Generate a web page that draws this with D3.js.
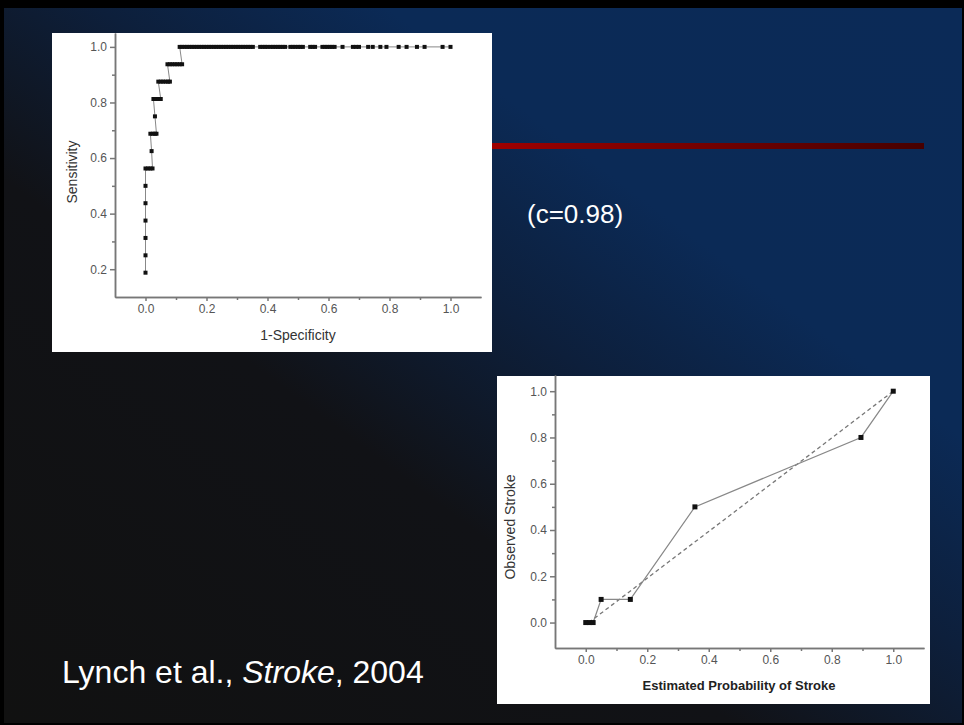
<!DOCTYPE html>
<html>
<head>
<meta charset="utf-8">
<script src="https://cdn.jsdelivr.net/npm/d3@7"></script>
<style>
  body { margin: 0; background: #000; }
  text { font-family: "Liberation Sans", Arial, sans-serif; }
</style>
</head>
<body>
<svg id="slide" width="964" height="725"></svg>
<script>
// ROC curve points (1-specificity, sensitivity)
const rocFpr = [
    0, 0, 0, 0, 0, 0, 0,
    0.008, 0.016, 0.023,
    0.02,
    0.016, 0.024, 0.031, 0.036,
    0.031,
    0.026, 0.034, 0.042, 0.05,
    0.042, 0.05, 0.058, 0.066, 0.074, 0.08,
    0.072, 0.08, 0.088, 0.096, 0.104, 0.112, 0.12,
    0.112, 0.12, 0.128, 0.136, 0.144, 0.152, 0.16, 0.168, 0.176, 0.184,
    0.192, 0.2, 0.208, 0.216, 0.224, 0.232, 0.24, 0.248, 0.256, 0.264,
    0.272, 0.28, 0.288, 0.296, 0.304, 0.312, 0.32, 0.328, 0.336, 0.344, 0.352,
    0.376, 0.384, 0.392, 0.4, 0.41, 0.418, 0.426, 0.434, 0.442, 0.45, 0.458,
    0.475, 0.483, 0.491, 0.5, 0.508, 0.516,
    0.54, 0.548, 0.556,
    0.58, 0.588, 0.596, 0.604, 0.612, 0.62,
    0.646, 0.68, 0.69, 0.7, 0.73, 0.745, 0.77, 0.79,
    0.83, 0.856, 0.89, 0.915, 0.974, 1.0
];
const rocTpr = [
    0.1875, 0.25, 0.3125, 0.375, 0.4375, 0.5, 0.5625,
    0.5625, 0.5625, 0.5625,
    0.625,
    0.6875, 0.6875, 0.6875, 0.6875,
    0.75,
    0.8125, 0.8125, 0.8125, 0.8125,
    0.875, 0.875, 0.875, 0.875, 0.875, 0.875,
    0.9375, 0.9375, 0.9375, 0.9375, 0.9375, 0.9375, 0.9375,
    1, 1, 1, 1, 1, 1, 1, 1, 1, 1,
    1, 1, 1, 1, 1, 1, 1, 1, 1, 1,
    1, 1, 1, 1, 1, 1, 1, 1, 1, 1, 1,
    1, 1, 1, 1, 1, 1, 1, 1, 1, 1, 1,
    1, 1, 1, 1, 1, 1,
    1, 1, 1,
    1, 1, 1, 1, 1, 1,
    1, 1, 1, 1, 1, 1, 1, 1,
    1, 1, 1, 1, 1, 1
];

// calibration plot points (estimated probability, observed stroke)
const calEstimated = [0, 0.012, 0.024, 0.05, 0.145, 0.355, 0.895, 1.0];
const calObserved = [0, 0, 0, 0.1, 0.1, 0.5, 0.8, 1.0];
const calRefX = [0.01, 1.0];
const calRefY = [0.0, 1.0];

const majorTicks = [0, 0.2, 0.4, 0.6, 0.8, 1.0];
const rocYTicks = [0.2, 0.4, 0.6, 0.8, 1.0];
const minorTicks = [0.1, 0.3, 0.5, 0.7, 0.9];

const svg = d3.select("#slide");
const fmt = d3.format(".1f");

// slide background
const defs = svg.append("defs");
const bg = defs.append("linearGradient").attr("id", "bg")
    .attr("x1", 0).attr("y1", 1).attr("x2", 1).attr("y2", 0);
bg.append("stop").attr("offset", 0).attr("stop-color", "#111111");
bg.append("stop").attr("offset", 0.38).attr("stop-color", "#111216");
bg.append("stop").attr("offset", 0.55).attr("stop-color", "#0d1f3b");
bg.append("stop").attr("offset", 0.7).attr("stop-color", "#0b2a56");
bg.append("stop").attr("offset", 1).attr("stop-color", "#0b2a57");

const red = defs.append("linearGradient").attr("id", "redbar");
red.append("stop").attr("offset", 0).attr("stop-color", "#a30000");
red.append("stop").attr("offset", 1).attr("stop-color", "#470000");

svg.append("rect").attr("width", 964).attr("height", 725).attr("fill", "#000");
svg.append("rect").attr("x", 4).attr("y", 8).attr("width", 958).attr("height", 715)
    .attr("fill", "url(#bg)");

svg.append("rect").attr("x", 470).attr("y", 143).attr("width", 454).attr("height", 6)
    .attr("fill", "url(#redbar)");

svg.append("text").attr("x", 527).attr("y", 223)
    .attr("fill", "#fff").attr("font-size", 26).text("(c=0.98)");

const cite = svg.append("text").attr("x", 62).attr("y", 683)
    .attr("fill", "#fff").attr("font-size", 32);
cite.append("tspan").text("Lynch et al., ");
cite.append("tspan").attr("font-style", "italic").text("Stroke");
cite.append("tspan").text(", 2004");

function styleAxis(g) {
    g.selectAll("path, line").attr("stroke", "#777").attr("stroke-width", 1.5);
    g.selectAll("text").attr("fill", "#555").attr("font-size", 12)
        .attr("font-family", "'Liberation Sans', Arial, sans-serif");
}

// ---- ROC panel ----
svg.append("rect").attr("x", 52).attr("y", 33).attr("width", 440).attr("height", 319)
    .attr("fill", "#fff");

const rx = d3.scaleLinear().domain([-0.1, 1.1]).range([115, 481]);
const ry = d3.scaleLinear().domain([0.1, 1.05]).range([297, 33]);

svg.append("g").attr("transform", "translate(0,297)")
    .call(d3.axisBottom(rx).tickValues(majorTicks).tickFormat(fmt).tickSize(4).tickSizeOuter(0))
    .call(styleAxis);
svg.append("g").attr("transform", "translate(0,297)")
    .call(d3.axisBottom(rx).tickValues(minorTicks).tickFormat("").tickSize(3).tickSizeOuter(0))
    .call(styleAxis);
svg.append("g").attr("transform", "translate(115,0)")
    .call(d3.axisLeft(ry).tickValues(rocYTicks).tickFormat(fmt).tickSize(5).tickSizeOuter(0))
    .call(styleAxis);
svg.append("g").attr("transform", "translate(115,0)")
    .call(d3.axisLeft(ry).tickValues([0.3, 0.5, 0.7, 0.9]).tickFormat("").tickSize(3).tickSizeOuter(0))
    .call(styleAxis);

const rocPts = rocFpr.map((v, i) => [v, rocTpr[i]]);
svg.append("path").datum(rocPts)
    .attr("fill", "none").attr("stroke", "#888").attr("stroke-width", 1)
    .attr("d", d3.line().x(d => rx(d[0])).y(d => ry(d[1])));
svg.append("g").selectAll("rect").data(rocPts).enter().append("rect")
    .attr("x", d => rx(d[0]) - 2).attr("y", d => ry(d[1]) - 2)
    .attr("width", 4).attr("height", 4).attr("fill", "#111");

svg.append("text").attr("x", 298).attr("y", 340).attr("text-anchor", "middle")
    .attr("fill", "#333").attr("font-size", 14).text("1-Specificity");
svg.append("text").attr("transform", "translate(77,172) rotate(-90)")
    .attr("text-anchor", "middle").attr("fill", "#333").attr("font-size", 14).text("Sensitivity");

// ---- calibration panel ----
svg.append("rect").attr("x", 497).attr("y", 376).attr("width", 433).attr("height", 328)
    .attr("fill", "#fff");

const cx = d3.scaleLinear().domain([-0.1, 1.1]).range([555, 924]);
const cy = d3.scaleLinear().domain([-0.11, 1.07]).range([648, 375]);

svg.append("g").attr("transform", "translate(0,648)")
    .call(d3.axisBottom(cx).tickValues(majorTicks).tickFormat(fmt).tickSize(4).tickSizeOuter(0))
    .call(styleAxis);
svg.append("g").attr("transform", "translate(0,648)")
    .call(d3.axisBottom(cx).tickValues(minorTicks).tickFormat("").tickSize(3).tickSizeOuter(0))
    .call(styleAxis);
svg.append("g").attr("transform", "translate(555,0)")
    .call(d3.axisLeft(cy).tickValues(majorTicks).tickFormat(fmt).tickSize(5).tickSizeOuter(0))
    .call(styleAxis);
svg.append("g").attr("transform", "translate(555,0)")
    .call(d3.axisLeft(cy).tickValues(minorTicks).tickFormat("").tickSize(3).tickSizeOuter(0))
    .call(styleAxis);

const refPts = calRefX.map((v, i) => [v, calRefY[i]]);
svg.append("path").datum(refPts)
    .attr("fill", "none").attr("stroke", "#777").attr("stroke-width", 1.3)
    .attr("stroke-dasharray", "4,3")
    .attr("d", d3.line().x(d => cx(d[0])).y(d => cy(d[1])));

const calPts = calEstimated.map((v, i) => [v, calObserved[i]]);
svg.append("path").datum(calPts)
    .attr("fill", "none").attr("stroke", "#888").attr("stroke-width", 1.2)
    .attr("d", d3.line().x(d => cx(d[0])).y(d => cy(d[1])));
svg.append("g").selectAll("rect").data(calPts).enter().append("rect")
    .attr("x", d => cx(d[0]) - 2.5).attr("y", d => cy(d[1]) - 2.5)
    .attr("width", 5).attr("height", 5).attr("fill", "#111");

svg.append("text").attr("x", 739).attr("y", 690).attr("text-anchor", "middle")
    .attr("fill", "#222").attr("font-size", 13).attr("font-weight", "bold")
    .text("Estimated Probability of Stroke");
svg.append("text").attr("transform", "translate(515,527) rotate(-90)")
    .attr("text-anchor", "middle").attr("fill", "#333").attr("font-size", 14).text("Observed Stroke");
</script>
</body>
</html>
